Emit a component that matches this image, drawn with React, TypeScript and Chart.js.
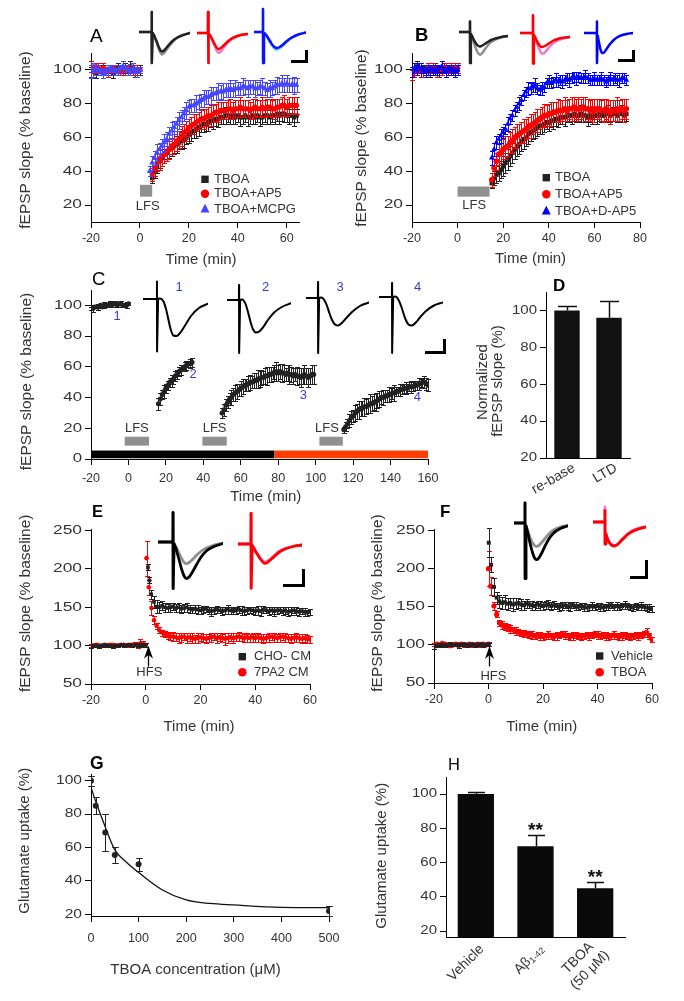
import React, { useEffect, useRef } from 'react';
import { Chart, registerables } from 'chart.js';

Chart.register(...registerables);

const FF = '"Liberation Sans", Arial, Helvetica, sans-serif';
const TXT = '#333333';
const INK = '#222222';
const RED = '#ff0000';
const BLUE_A = '#4646ff';
const BLUE_B = '#0000ff';
const GRAY = '#8f8f8f';
const PINK = '#f07ad2';
const LIGHTBLUE = '#62c6f2';
const NUMBLUE = '#3b3bd0';
const ORANGE = '#ff3d00';
const LFS_GRAY = '#909090';

// ---------------- Panel A ----------------
const aNames = ['TBOA', 'TBOA+AP5', 'TBOA+MCPG'];
const aXTicks = [-20, 0, 20, 40, 60];
const aYTicks = [20, 40, 60, 80, 100];
const aLfs = [0, 5];
const aBaseStart = -20;
const aTboaBase = [99, 100, 98, 99, 100, 101, 99, 100, 99, 98, 100, 101, 100, 99, 101, 100, 102, 101, 99, 100, 100];
const aTboaBaseErr = [3, 2, 3, 2, 3, 2, 2, 3, 2, 3, 2, 3, 2, 2, 3, 2, 3, 2, 3, 2, 3];
const aAp5Base = [102, 101, 102, 101, 100, 101, 100, 99, 100, 101, 100, 99, 100, 99, 100, 101, 100, 100, 99, 100, 100];
const aAp5BaseErr = [3, 3, 2, 3, 2, 3, 2, 3, 2, 2, 3, 2, 3, 2, 3, 2, 2, 3, 2, 3, 2];
const aMcpgBase = [99, 100, 101, 100, 99, 98, 99, 100, 101, 100, 99, 100, 101, 102, 101, 100, 99, 101, 100, 99, 100];
const aMcpgBaseErr = [4, 4, 2, 3, 2, 3, 2, 3, 2, 3, 2, 3, 2, 3, 2, 3, 2, 3, 2, 3, 2];
const aTboaStart = 5;
const aTboaPost = [
  36, 40, 43, 46, 48, 50, 51, 53, 54, 55,
  56, 57, 58, 59, 60, 62, 63, 64, 65, 66,
  67, 68, 68, 69, 70, 70, 71, 71, 72, 72,
  73, 73, 72, 73, 72, 73, 72, 72, 73, 72,
  72, 73, 72, 73, 72, 72, 73, 73, 72, 73,
  73, 74, 73, 74, 74, 73, 73, 73, 72, 73];
const aTboaErr = [
  3, 4, 4, 4, 5, 5, 4, 5, 5, 4, 5, 4, 5, 5, 4, 5, 5, 4, 5, 5,
  4, 5, 4, 5, 4, 5, 4, 5, 4, 4, 5, 4, 4, 5, 4, 4, 5, 4, 4, 5,
  4, 5, 4, 4, 5, 4, 4, 5, 4, 4, 5, 4, 5, 4, 5, 4, 5, 4, 5, 4];
const aAp5Start = 5;
const aAp5Post = [
  38, 42, 45, 47, 49, 50, 52, 53, 55, 56,
  58, 59, 61, 63, 64, 66, 67, 68, 69, 70,
  71, 71, 72, 73, 73, 74, 75, 75, 76, 76,
  76, 77, 77, 76, 77, 77, 78, 77, 77, 77,
  76, 77, 78, 77, 77, 78, 77, 78, 78, 77,
  77, 78, 78, 79, 79, 78, 79, 79, 79, 79];
const aAp5Err = [
  4, 5, 5, 6, 6, 5, 6, 6, 5, 6, 6, 5, 6, 5, 6, 5, 5, 6, 5, 5,
  5, 6, 5, 5, 6, 5, 5, 6, 5, 5, 5, 5, 6, 5, 5, 5, 6, 5, 5, 5,
  5, 6, 5, 5, 5, 6, 5, 5, 5, 5, 6, 5, 5, 5, 6, 5, 5, 5, 5, 5];
const aMcpgStart = 4;
const aMcpgPost = [
  40, 45, 48, 51, 53, 55, 57, 59, 62, 64,
  66, 68, 70, 72, 74, 76, 78, 79, 79, 80,
  81, 82, 83, 84, 84, 85, 86, 86, 87, 87,
  87, 88, 88, 89, 88, 89, 89, 89, 90, 90,
  89, 90, 90, 89, 89, 90, 90, 89, 88, 89,
  89, 90, 91, 91, 92, 91, 92, 91, 91, 91,
  91];
const aMcpgErr = [
  3, 4, 4, 5, 4, 4, 5, 4, 4, 5, 4, 4, 5, 4, 4, 5, 4, 4, 4, 5,
  4, 4, 5, 4, 4, 5, 4, 4, 5, 4, 5, 4, 4, 5, 4, 5, 4, 4, 5, 4,
  5, 4, 4, 5, 4, 4, 5, 4, 4, 5, 4, 4, 5, 4, 5, 4, 5, 4, 4, 5, 4];

// ---------------- Panel B ----------------
const bNames = ['TBOA', 'TBOA+AP5', 'TBOA+D-AP5'];
const bXTicks = [-20, 0, 20, 40, 60, 80];
const bYTicks = [20, 40, 60, 80, 100];
const bLfs = [0, 14];
const bBaseStart = -20;
const bTboaBase = [97, 100, 102, 100, 99, 101, 100, 100, 99, 100, 101, 100, 99, 100, 101, 101, 100, 99, 100, 101, 100];
const bTboaBaseErr = [3, 2, 3, 2, 3, 2, 3, 2, 3, 2, 3, 2, 3, 2, 3, 2, 3, 2, 3, 2, 3];
const bAp5Base = [97, 99, 100, 101, 100, 99, 100, 101, 100, 101, 100, 99, 101, 100, 100, 101, 100, 101, 100, 101, 101];
const bAp5BaseErr = [3, 3, 2, 3, 2, 3, 2, 3, 2, 3, 2, 3, 2, 3, 2, 3, 2, 3, 2, 3, 3];
const bDap5Base = [99, 101, 100, 102, 101, 100, 99, 100, 101, 100, 99, 100, 101, 102, 100, 99, 101, 100, 100, 99, 100];
const bDap5BaseErr = [3, 3, 3, 2, 3, 2, 3, 3, 2, 3, 2, 3, 2, 3, 2, 3, 2, 3, 2, 3, 3];
const bPostStart = 15;
const bTboaPost = [
  33, 36, 38, 39, 41, 43, 45, 47, 49, 51,
  53, 55, 56, 58, 59, 60, 62, 63, 64, 65,
  66, 67, 67, 68, 69, 69, 70, 70, 71, 71,
  72, 72, 72, 73, 73, 73, 74, 73, 73, 74,
  73, 73, 72, 73, 72, 73, 73, 74, 73, 73,
  74, 74, 73, 74, 74, 73, 74, 74, 73, 74];
const bTboaErr = [
  3, 4, 5, 5, 5, 6, 6, 6, 6, 6, 6, 6, 6, 6, 6, 5, 6, 5, 5, 5,
  5, 5, 5, 5, 4, 5, 4, 5, 4, 5, 4, 4, 5, 4, 4, 5, 4, 4, 4, 5,
  4, 4, 5, 4, 4, 4, 5, 4, 4, 4, 4, 5, 4, 4, 4, 4, 4, 5, 4, 4];
const bAp5Post = [
  35, 42, 46, 50, 51, 53, 54, 55, 57, 58,
  60, 61, 62, 63, 64, 65, 66, 67, 68, 69,
  70, 71, 72, 73, 73, 74, 74, 75, 75, 76,
  76, 76, 77, 76, 77, 77, 78, 77, 77, 77,
  78, 77, 77, 76, 77, 76, 77, 77, 76, 76,
  77, 76, 75, 76, 76, 77, 76, 77, 76, 77];
const bAp5Err = [
  4, 5, 5, 6, 6, 6, 7, 6, 6, 7, 6, 7, 6, 6, 7, 6, 6, 7, 6, 6,
  7, 6, 6, 7, 6, 6, 7, 6, 6, 7, 6, 6, 7, 6, 6, 7, 6, 6, 7, 6,
  6, 7, 6, 6, 6, 7, 6, 6, 6, 7, 6, 6, 7, 6, 6, 7, 6, 6, 7, 6];
const bDap5Post = [
  48, 53, 57, 59, 61, 63, 65, 68, 71, 73,
  76, 78, 80, 82, 85, 87, 89, 89, 90, 91,
  89, 88, 89, 90, 92, 93, 92, 93, 94, 93,
  94, 93, 94, 95, 94, 95, 96, 95, 96, 95,
  95, 96, 95, 94, 94, 95, 94, 94, 95, 94,
  93, 94, 95, 94, 95, 94, 94, 95, 95, 94];
const bDap5Err = [
  4, 4, 4, 3, 4, 3, 3, 4, 3, 3, 3, 3, 4, 3, 3, 3, 4, 3, 3, 4,
  3, 3, 4, 3, 3, 4, 3, 3, 4, 3, 3, 4, 3, 3, 4, 3, 3, 4, 3, 3,
  3, 4, 3, 3, 3, 4, 3, 3, 4, 3, 3, 3, 4, 3, 3, 3, 4, 3, 3, 3];

// ---------------- Panel C ----------------
const cXTicks = [-20, 0, 20, 40, 60, 80, 100, 120, 140, 160];
const cYTicks = [0, 20, 40, 60, 80, 100];
const cLfs = [[-2, 11], [39.5, 52.5], [102, 114.5]];
const cLfsLabelX = [4.5, 46, 106];
const cDrugA = [-20, 78];
const cDrugB = [78, 160];
const cPointLabels = ['1', '2', '3', '4'];
const cPointLabelX = [-6, 34.6, 93.4, 154.3];
const cPointLabelY = [92.6, 54.8, 41.1, 39.8];
const cBaseStart = -20;
const cBase = [98, 98, 99, 99, 99, 100, 99, 100, 100, 100, 101, 100, 101, 101, 100, 101, 101, 100, 100, 100, 101];
const cBaseErr = [1, 2, 1, 1, 2, 1, 1, 2, 1, 1, 2, 1, 1, 2, 1, 1, 2, 1, 1, 2, 1];
const cSeg2Start = 16;
const cSeg2 = [36, 39, 42, 44, 46, 48, 50, 51, 52, 54, 55, 57, 58, 59, 60, 61, 62, 62, 63];
const cSeg2Err = [4, 4, 3, 4, 3, 3, 3, 4, 3, 3, 3, 3, 3, 2, 3, 3, 2, 3, 3];
const cSeg3Start = 50;
const cSeg3 = [
  30, 32, 35, 37, 39, 40, 42, 43, 44, 45,
  46, 47, 48, 48, 49, 50, 50, 51, 51, 52,
  52, 53, 53, 54, 54, 55, 55, 56, 56, 57,
  56, 57, 56, 56, 55, 56, 55, 55, 54, 55,
  54, 54, 53, 54, 55, 54, 53, 54, 55, 55];
const cSeg3Err = [
  3, 4, 4, 4, 4, 5, 4, 5, 5, 4, 5, 5, 4, 4, 5, 5, 4, 5, 5, 6,
  5, 5, 4, 5, 6, 5, 5, 4, 5, 6, 5, 5, 6, 5, 4, 5, 6, 5, 5, 4,
  6, 5, 6, 5, 6, 5, 6, 5, 6, 6];
const cSeg4Start = 115;
const cSeg4 = [
  19, 21, 23, 25, 27, 28, 30, 31, 32, 33,
  33, 34, 34, 35, 36, 36, 37, 37, 38, 39,
  40, 40, 41, 41, 42, 42, 43, 43, 44, 44,
  45, 45, 46, 46, 46, 47, 47, 47, 48, 48,
  49, 49, 50, 50, 49, 48];
const cSeg4Err = [
  2, 3, 3, 4, 4, 4, 5, 5, 6, 5, 5, 6, 5, 5, 6, 5, 5, 6, 5, 5,
  4, 5, 4, 4, 5, 4, 4, 5, 3, 3, 4, 3, 3, 4, 3, 3, 4, 3, 3, 3,
  4, 3, 3, 4, 4, 4];

// ---------------- Panel D ----------------
const dLabels = [['re-base'], ['LTD']];
const dYTicks = [20, 40, 60, 80, 100];
const dValues = [100, 96];
const dErr = [2.5, 9];

// ---------------- Panel E ----------------
const eNames = ['CHO- CM', '7PA2 CM'];
const efXTicks = [-20, 0, 20, 40, 60];
const efYTicks = [50, 100, 150, 200, 250];
const eBaseStart = -20;
const eChoBase = [99, 100, 100, 99, 100, 101, 100, 100, 99, 100, 100, 101, 100, 100, 101, 100, 101, 100, 101, 101, 101];
const eChoBaseErr = [2, 2, 1, 2, 2, 1, 2, 2, 2, 1, 2, 2, 2, 1, 2, 2, 2, 2, 2, 3, 3];
const e7paBase = [100, 100, 101, 100, 100, 101, 100, 101, 101, 100, 100, 101, 101, 100, 101, 101, 102, 100, 103, 102, 101];
const e7paBaseErr = [2, 2, 2, 2, 2, 2, 2, 2, 2, 2, 2, 2, 2, 2, 2, 2, 3, 3, 5, 4, 3];
const eChoEarlyT = [0.8, 1.3, 2, 3];
const eChoEarly = [202, 185, 167, 157];
const eChoEarlyErr = [4, 4, 6, 8];
const eChoStart = 4;
const eChoPost = [
  151, 150, 152, 150, 149, 150, 151, 149, 150, 148,
  149, 150, 148, 147, 148, 147, 146, 147, 148, 146,
  145, 146, 147, 146, 145, 146, 147, 146, 145, 146,
  147, 146, 145, 146, 147, 146, 145, 146, 145, 147,
  146, 145, 146, 145, 146, 146, 145, 146, 144, 145,
  146, 145, 144, 145, 144, 143, 144];
const eChoErr = [
  8, 7, 6, 6, 5, 6, 5, 5, 6, 5, 5, 6, 5, 4, 5, 6, 5, 5, 4, 5,
  6, 5, 5, 4, 5, 5, 6, 5, 4, 5, 5, 6, 5, 5, 4, 5, 5, 6, 7, 5,
  4, 5, 5, 6, 5, 4, 5, 5, 6, 5, 4, 5, 5, 4, 5, 4, 4];
const e7paEarlyT = [0.3, 1.1, 2.1, 3, 4, 5, 6, 7];
const e7paEarly = [214, 176, 149, 133, 126, 120, 117, 115];
const e7paEarlyErr = [23, 10, 9, 5, 4, 4, 4, 4];
const e7paStart = 8;
const e7paPost = [
  113, 112, 112, 111, 110, 111, 112, 110, 111, 110,
  109, 110, 111, 110, 109, 110, 111, 112, 110, 111,
  110, 109, 110, 111, 110, 111, 112, 111, 110, 111,
  110, 111, 110, 111, 110, 109, 110, 111, 112, 111,
  110, 111, 112, 111, 110, 109, 110, 111, 110, 109,
  110, 109, 108];
const e7paErr = [
  5, 5, 6, 5, 7, 6, 5, 6, 5, 6, 5, 6, 5, 5, 6, 5, 6, 5, 6, 5,
  5, 8, 6, 5, 6, 5, 6, 5, 5, 6, 5, 6, 5, 6, 5, 6, 5, 6, 5, 6,
  5, 6, 5, 6, 5, 6, 5, 6, 5, 6, 5, 5, 5];

// ---------------- Panel F ----------------
const fNames = ['Vehicle', 'TBOA'];
const fBaseStart = -20;
const fVehBase = [98, 99, 100, 100, 99, 100, 101, 100, 100, 99, 100, 101, 100, 100, 101, 100, 100, 101, 100, 100, 101];
const fVehBaseErr = [3, 2, 2, 3, 2, 2, 3, 2, 2, 3, 2, 2, 3, 2, 2, 3, 2, 2, 3, 2, 2];
const fTboaBase = [100, 101, 100, 102, 101, 100, 99, 100, 101, 100, 101, 100, 100, 101, 100, 100, 101, 100, 101, 100, 101];
const fTboaBaseErr = [2, 2, 3, 2, 2, 3, 2, 2, 3, 2, 2, 3, 2, 2, 3, 2, 2, 3, 2, 2, 3];
const fVehEarlyT = [0.1, 0.9, 2, 3];
const fVehEarly = [234, 205, 176, 162];
const fVehEarlyErr = [19, 10, 12, 8];
const fVehStart = 4;
const fVehPost = [
  157, 155, 156, 154, 155, 153, 154, 155, 153, 152,
  154, 153, 152, 151, 153, 152, 151, 152, 153, 151,
  152, 151, 150, 151, 152, 151, 150, 152, 151, 150,
  151, 150, 149, 150, 151, 150, 151, 150, 149, 150,
  151, 152, 150, 151, 150, 151, 152, 151, 150, 149,
  151, 150, 151, 150, 149, 148, 147];
const fVehErr = [
  9, 8, 9, 8, 7, 8, 7, 6, 7, 6, 6, 5, 6, 5, 5, 6, 5, 5, 6, 5,
  5, 4, 5, 5, 4, 5, 5, 4, 5, 4, 4, 5, 4, 4, 5, 4, 4, 5, 4, 4,
  5, 4, 4, 5, 4, 4, 5, 4, 4, 5, 4, 4, 5, 4, 4, 5, 4];
const fTboaEarlyT = [0, 0.8, 2, 3, 4];
const fTboaEarly = [200, 177, 151, 140, 129];
const fTboaEarlyErr = [23, 12, 5, 4, 4];
const fTboaStart = 5;
const fTboaPost = [
  126, 124, 123, 121, 120, 118, 117, 116, 115, 114,
  113, 113, 112, 113, 112, 111, 112, 113, 112, 111,
  112, 113, 114, 113, 112, 111, 112, 113, 112, 111,
  112, 113, 112, 113, 114, 113, 112, 113, 112, 111,
  112, 113, 112, 111, 112, 113, 112, 111, 112, 113,
  112, 113, 114, 116, 112, 107];
const fTboaErr = [
  5, 5, 5, 5, 4, 5, 4, 4, 5, 4, 4, 5, 4, 4, 5, 4, 4, 5, 4, 4,
  5, 4, 4, 5, 4, 4, 5, 4, 4, 5, 4, 4, 5, 4, 4, 5, 4, 4, 5, 4,
  4, 5, 4, 4, 5, 4, 4, 5, 4, 4, 5, 4, 4, 6, 4, 3];

// ---------------- Panel G ----------------
const gXTicks = [0, 100, 200, 300, 400, 500];
const gYTicks = [20, 40, 60, 80, 100];
const gConc = [0, 10, 30, 50, 100, 500];
const gUptake = [100, 85, 69, 55.5, 50, 22];
const gErr = [3, 5, 11, 5, 4, 3];
const gFitX = [0, 10, 25, 50, 75, 100, 150, 200, 250, 300, 400, 500];
const gFitY = [96, 87.5, 76, 58.6, 51, 45, 34.6, 28.6, 26.5, 25.6, 24.2, 24];

// ---------------- Panel H ----------------
const hLabels = [['Vehicle'], ['A\u03b2_1-42'], ['TBOA', '(50 \u03bcM)']];
const hYTicks = [20, 40, 60, 80, 100];
const hValues = [100, 69.5, 45];
const hErr = [1, 6.5, 3.5];
const hSig = ['', '**', '**'];

// ---------------- inset traces ----------------
const traceArtT = 15;
const tracePostT = [16, 17.5, 19, 21, 23, 25, 27, 29.5, 32.5, 36, 40, 45, 52, 60];
const trA1Art = [20, -31];
const trA1Black = [-1, -3, -6, -10, -14.5, -18, -19.5, -18.5, -15.5, -12, -8.5, -5.5, -3, -1];
const trA1Gray = [-1, -3, -6.5, -11, -16, -20.5, -22.5, -21, -17.5, -13.5, -9.5, -6, -3, -1];
const trA2Art = [21, -30];
const trA2Red = [-1, -2.5, -5, -8.5, -12, -15, -16, -15, -12.5, -9.5, -6.5, -4, -2, -1];
const trA2Pink = [-1, -2.5, -5.5, -10, -14, -18, -19.7, -18.5, -15, -11, -7.5, -4.5, -2, -1];
const trA3Art = [23, -31];
const trA3Blue = [-1, -2, -4, -7, -10, -13, -15, -16, -15, -12.5, -9, -5.5, -2.5, -0.5];
const trA3Light = [-1, -2, -4.5, -8, -11, -14, -16.5, -17.5, -16, -13.5, -9.5, -6, -2.5, -0.5];
const trB1Art = [10.6, -31];
const trB1Black = [-2, -4, -7, -10, -12.5, -14, -14.4, -13.5, -12, -10, -8, -6.5, -5, -4];
const trB1Gray = [-2, -5, -9, -14, -18.5, -21.5, -22.7, -21, -17.5, -13.5, -10, -7.5, -5.5, -4];
const trB2Art = [17.7, -30.6];
const trB2Red = [-2, -4, -7, -10, -12.5, -14, -13.8, -13, -11.5, -9.5, -7.5, -6, -4.8, -4];
const trB2Pink = [-2, -4.5, -8.5, -13, -17, -20, -20.6, -19.5, -16.5, -13, -10, -7.5, -5.5, -4];
const trB3Art = [11.6, -30];
const trB3Blue = [-3, -9, -15, -19.5, -20, -18.5, -16, -13, -10, -7, -4.5, -2.5, -1, 0];
const trC1Art = [17.6, -52.4];
const trC1 = [0, 0.5, 0, -3, -10, -20, -30, -36.5, -37, -33, -26, -17, -9, -4.7];
const trC2Art = [15, -53];
const trC2 = [0, 0.5, -0.5, -5, -13, -22, -29, -32.5, -31.5, -27, -20, -13, -7, -3.3];
const trC3Art = [16, -55];
const trC3 = [0, 0.5, 0, -3, -8, -15, -21, -26, -27.5, -25, -20, -14, -8, -4.4];
const trC4Art = [14, -56];
const trC4 = [0, 0.5, 0, -3.5, -9, -16, -22.5, -27.5, -28.5, -25.5, -20, -14, -8.5, -5.4];
const trE1Art = [29.4, -46.6];
const trE1Black = [-2, -6, -12, -20, -28, -34, -36.5, -35, -30, -23, -15.5, -9, -4.5, -1.6];
const trE1Gray = [-2, -4.5, -8, -12.5, -17, -20.5, -21.6, -20.5, -17.5, -13.5, -9.5, -6, -3, -1.2];
const trE2Art = [30.7, -44.3];
const trE2Red = [-1.5, -4, -7.5, -11, -14.5, -17.5, -19.3, -18.5, -15.5, -12, -8, -5, -2.5, -1];
const trE2Pink = [-1.5, -4, -7, -10.5, -14, -16.5, -17.7, -17, -14.5, -11, -7.5, -4.5, -2.5, -1];
const trF1Art = [20, -55.7];
const trF1Black = [-3, -8, -15, -23, -30, -35, -36.7, -35, -30, -23, -16, -10, -5.5, -2.7];
const trF1Gray = [-3, -6.5, -11, -16, -20, -22.5, -23.4, -22.5, -19.5, -15.5, -11, -7, -4, -2.5];
const trF2RedArt = [11.7, -22];
const trF2PinkArt = [15, -22];
const trF2Red = [-12, -16, -19.5, -22, -23.5, -24, -23.5, -22, -19, -16, -12.5, -9.5, -7, -5];
const trF2Pink = [-12, -15.5, -19, -21.5, -23, -23.5, -23, -21.5, -18.5, -15, -11.5, -8.5, -6, -4.5];

// ---------------- axis titles ----------------
const titleSlope = 'fEPSP slope (% baseline)';
const titleTime = 'Time (min)';
const titleNorm = ['Normalized', 'fEPSP slope (%)'];
const titleUptake = 'Glutamate uptake (%)';
const titleConc = 'TBOA concentration (\u03bcM)';

// ---------------- helpers ----------------
type P = { x: number; y: number };
const seq = (t0: number, v: number[]): P[] => v.map((y, i) => ({ x: t0 + i, y }));
const at = (t: number[], v: number[]): P[] => v.map((y, i) => ({ x: t[i], y }));

function ptDs(pts: P[], err: number[], color: string, style: string, r: number, cap = 2.5) {
  return {
    data: pts, err, errColor: color, errCap: cap,
    borderColor: color, backgroundColor: color,
    pointStyle: style, pointRadius: r, pointBorderWidth: 0, showLine: false,
  };
}

function drawText(ctx: any, s: string, x: number, y: number, o: any = {}) {
  ctx.save();
  ctx.translate(x, y);
  if (o.rot) ctx.rotate(o.rot);
  ctx.scale(o.sx ?? 1, 1);
  ctx.font = o.font ?? `13px ${FF}`;
  ctx.fillStyle = o.color ?? TXT;
  ctx.textAlign = o.align ?? 'center';
  ctx.textBaseline = o.baseline ?? 'middle';
  ctx.fillText(s, 0, 0);
  ctx.restore();
}

function shape(ctx: any, style: string, x: number, y: number, r: number) {
  ctx.beginPath();
  if (style === 'rect') ctx.rect(x - r, y - r, 2 * r, 2 * r);
  else if (style === 'circle') ctx.arc(x, y, r, 0, Math.PI * 2);
  else { ctx.moveTo(x, y - r * 1.15); ctx.lineTo(x + r, y + r * 0.75); ctx.lineTo(x - r, y + r * 0.75); ctx.closePath(); }
  ctx.fill();
}

function measureLine(ctx: any, line: string, fs: number) {
  const [main, sub] = line.split('_');
  ctx.font = `${fs}px ${FF}`;
  let w = ctx.measureText(main).width;
  if (sub) { ctx.font = `${Math.round(fs * 0.65)}px ${FF}`; w += ctx.measureText(sub).width; }
  return w;
}

function drawLine(ctx: any, line: string, xr: number, y: number, fs: number) {
  const [main, sub] = line.split('_');
  const w = measureLine(ctx, line, fs);
  const x0 = xr - w;
  ctx.textAlign = 'left';
  ctx.textBaseline = 'middle';
  ctx.font = `${fs}px ${FF}`;
  ctx.fillText(main, x0, y);
  if (sub) {
    const wm = ctx.measureText(main).width;
    ctx.font = `${Math.round(fs * 0.65)}px ${FF}`;
    ctx.fillText(sub, x0 + wm, y + fs * 0.22);
  }
}

function makeDeco(d: any) {
  return {
    id: 'deco',
    beforeDatasetsDraw(chart: any) {
      const { ctx } = chart;
      const xs = chart.scales.x, ys = chart.scales.y;
      (d.boxes || []).forEach((b: any) => {
        const x0 = xs.getPixelForValue(b.x0), x1 = xs.getPixelForValue(b.x1);
        const y0 = ys.getPixelForValue(b.y0), y1 = ys.getPixelForValue(b.y1);
        ctx.fillStyle = b.color;
        ctx.fillRect(Math.min(x0, x1), Math.min(y0, y1), Math.abs(x1 - x0), Math.abs(y1 - y0));
      });
    },
    beforeDatasetDraw(chart: any, args: any) {
      const ds: any = chart.data.datasets[args.index];
      if (!ds.err) return;
      const meta = chart.getDatasetMeta(args.index);
      const ys = chart.scales[meta.yAxisID];
      const ctx = chart.ctx;
      ctx.save();
      ctx.strokeStyle = ds.errColor;
      ctx.lineWidth = ds.errWidth ?? 1;
      meta.data.forEach((el: any, j: number) => {
        const raw = ds.data[j];
        const v = typeof raw === 'number' ? raw : raw.y;
        const e = ds.err[j];
        if (!e) return;
        const x = Math.round(el.x) + 0.5;
        const yt = Math.round(ys.getPixelForValue(v + e)) + 0.5;
        const yb = ds.errUp ? ys.getPixelForValue(v) : Math.round(ys.getPixelForValue(v - e)) + 0.5;
        const c = ds.errCap ?? 2.5;
        ctx.beginPath();
        ctx.moveTo(x, yt); ctx.lineTo(x, yb);
        ctx.moveTo(x - c, yt); ctx.lineTo(x + c, yt);
        if (!ds.errUp) { ctx.moveTo(x - c, yb); ctx.lineTo(x + c, yb); }
        ctx.stroke();
      });
      ctx.restore();
    },
    afterDraw(chart: any) {
      const { ctx, chartArea: ca } = chart;
      const xs = chart.scales.x, ys = chart.scales.y;
      const ox = d.ox, oy = d.oy;
      if (d.yt) {
        ys.ticks.forEach((t: any, i: number) => {
          drawText(ctx, String(t.value), ca.left - d.yt.off, ys.getPixelForTick(i), { font: d.yt.font, sx: d.yt.sx, align: 'right', color: TXT });
        });
      }
      if (d.xt) {
        const X = d.xt;
        xs.ticks.forEach((t: any, i: number) => {
          const px = xs.getPixelForTick(i);
          if (!X.rot) {
            drawText(ctx, String(t.value), px, ca.bottom + X.off, { font: X.font, sx: X.sx, align: 'center', color: TXT });
          } else {
            const lines: string[] = X.labels[i];
            ctx.save();
            ctx.translate(px + X.dx, ca.bottom + X.dy);
            ctx.rotate(X.rot);
            ctx.fillStyle = TXT;
            const ws = lines.map((l) => measureLine(ctx, l, X.fs));
            const mw = Math.max(...ws);
            lines.forEach((l, k) => drawLine(ctx, l, -(mw - ws[k]) / 2, (k - (lines.length - 1) / 2) * X.lh, X.fs));
            ctx.restore();
          }
        });
      }
      (d.titles || []).forEach((t: any) => {
        drawText(ctx, t.s, t.x - ox, t.y - oy, { font: `${t.size}px ${FF}`, color: TXT, rot: t.rot ? -Math.PI / 2 : 0, sx: t.sx ?? 1 });
      });
      (d.texts || []).forEach((t: any) => {
        drawText(ctx, t.s, xs.getPixelForValue(t.x), ys.getPixelForValue(t.y), { font: t.font, color: t.color ?? TXT, sx: t.sx ?? 1 });
      });
      (d.ptexts || []).forEach((t: any) => {
        drawText(ctx, t.s, t.x - ox, t.y - oy, { font: t.font, color: t.color ?? TXT, sx: t.sx ?? 1 });
      });
      (d.arrows || []).forEach((a: any) => {
        const x = Math.round(xs.getPixelForValue(a.x)) + 0.5;
        const y0 = ys.getPixelForValue(a.y0), y1 = ys.getPixelForValue(a.y1);
        ctx.save();
        ctx.strokeStyle = '#000'; ctx.lineWidth = 1.3;
        ctx.beginPath(); ctx.moveTo(x, y0); ctx.lineTo(x, y1 + 8); ctx.stroke();
        ctx.fillStyle = '#000';
        ctx.beginPath(); ctx.moveTo(x, y1); ctx.lineTo(x - 4.5, y1 + 13); ctx.lineTo(x, y1 + 9); ctx.lineTo(x + 4.5, y1 + 13); ctx.closePath(); ctx.fill();
        ctx.restore();
      });
      if (d.legend) {
        const L = d.legend;
        L.items.forEach((it: any, i: number) => {
          const yy = L.ys[i] - oy;
          ctx.fillStyle = it.color;
          shape(ctx, it.style, L.mx - ox, yy, it.r);
          drawText(ctx, L.names[i], L.tx - ox, yy, { font: L.font, align: 'left', sx: L.sx ?? 1, color: TXT });
        });
      }
      if (d.sig) {
        const meta = chart.getDatasetMeta(0);
        const ds: any = chart.data.datasets[0];
        meta.data.forEach((el: any, i: number) => {
          const s = d.sig.s[i];
          if (!s) return;
          const yTop = ys.getPixelForValue(ds.data[i] + ds.err[i]);
          drawText(ctx, s, el.x, yTop + d.sig.dy, { font: d.sig.font, color: '#111', baseline: 'alphabetic' });
        });
      }
    },
  };
}

function buildConfig(s: any) {
  const { rect, pad } = s;
  const tl = s.tickLen ?? 6;
  const border = { display: true, color: '#000', width: 1 };
  const grid = { display: true, drawOnChartArea: false, drawTicks: true, tickLength: tl, color: '#000', lineWidth: 1 };
  const ox = rect.l - pad.l, oy = rect.t - pad.t;
  const x = s.type === 'bar'
    ? { type: 'category', offset: true, grid: { display: false }, border, ticks: { display: false }, afterFit: (sc: any) => { sc.height = pad.b; } }
    : {
        type: 'linear', min: s.xr[0], max: s.xr[1], ticks: { display: false }, grid, border,
        afterBuildTicks: (sc: any) => { sc.ticks = s.xTicks.map((v: number) => ({ value: v })); },
        afterFit: (sc: any) => { sc.height = pad.b; },
      };
  const y = {
    type: 'linear', min: s.yr[0], max: s.yr[1], ticks: { display: false }, grid, border,
    afterBuildTicks: (sc: any) => { sc.ticks = s.yTicks.map((v: number) => ({ value: v })); },
    afterFit: (sc: any) => { sc.width = pad.l; },
  };
  return {
    type: s.type,
    data: s.type === 'bar' ? { labels: s.labels, datasets: s.datasets } : { datasets: s.datasets },
    options: {
      animation: false, responsive: true, maintainAspectRatio: false, events: [],
      layout: { padding: { left: 0, top: pad.t, right: pad.r, bottom: 0 }, autoPadding: false },
      plugins: { legend: { display: false }, tooltip: { enabled: false } },
      scales: { x, y },
    },
    plugins: [makeDeco({ ...s.deco, ox, oy })],
  };
}

function MainChart({ spec }: any) {
  const ref = useRef<HTMLCanvasElement>(null);
  const { rect, pad } = spec;
  useEffect(() => {
    const ch = new Chart(ref.current as any, buildConfig(spec) as any);
    return () => ch.destroy();
  }, []);
  return (
    <div style={{ position: 'absolute', left: rect.l - pad.l, top: rect.t - pad.t, width: rect.r - rect.l + pad.l + pad.r, height: rect.b - rect.t + pad.t + pad.b }}>
      <canvas ref={ref} />
    </div>
  );
}

function TraceBox({ l, r, base, xmin, lines, lw = 2.5 }: any) {
  const ref = useRef<HTMLCanvasElement>(null);
  useEffect(() => {
    const datasets: any[] = [];
    lines.forEach((ln: any) => {
      datasets.push({
        data: at([-20, traceArtT - 0.1, traceArtT, traceArtT + 0.1, tracePostT[0]], [0, 0, ln.art[0], ln.art[1], ln.post[0]]),
        showLine: true, borderColor: ln.color, borderWidth: lw, pointRadius: 0, tension: 0,
        borderJoinStyle: 'round', borderCapStyle: 'round',
      });
      datasets.push({
        data: at(tracePostT, ln.post), showLine: true, borderColor: ln.color, borderWidth: lw,
        pointRadius: 0, cubicInterpolationMode: 'monotone', borderJoinStyle: 'round', borderCapStyle: 'round',
      });
    });
    const ch = new Chart(ref.current as any, {
      type: 'scatter',
      data: { datasets },
      options: {
        animation: false, responsive: true, maintainAspectRatio: false, events: [],
        layout: { padding: 0, autoPadding: false },
        plugins: { legend: { display: false }, tooltip: { enabled: false } },
        scales: {
          x: { type: 'linear', display: false, min: xmin, max: 60 },
          y: { type: 'linear', display: false, min: -60, max: 35 },
        },
      },
    } as any);
    return () => ch.destroy();
  }, []);
  return (
    <div style={{ position: 'absolute', left: l, top: base - 35, width: r - l, height: 95 }}>
      <canvas ref={ref} />
    </div>
  );
}

function ScaleBar({ l, t, w, h }: any) {
  return <div style={{ position: 'absolute', left: l, top: t, width: w, height: h, boxSizing: 'border-box', borderRight: '3px solid #000', borderBottom: '3px solid #000' }} />;
}

function Letter({ x, y, s, size, bold }: any) {
  return (
    <div style={{ position: 'absolute', left: x, top: Math.round(y - 0.13 * size), fontFamily: FF, fontSize: size, fontWeight: bold ? 700 : 400, lineHeight: `${size}px`, color: '#000' }}>{s}</div>
  );
}

// ---------------- chart specs ----------------
const F12 = `12px ${FF}`;
const F13 = `13px ${FF}`;

const specA = {
  type: 'scatter',
  rect: { l: 91, t: 53, r: 299, b: 222 }, pad: { l: 76, t: 6, r: 8, b: 46 },
  xr: [-20, 65], xTicks: aXTicks, yr: [10, 110], yTicks: aYTicks,
  datasets: [
    ptDs([...seq(aBaseStart, aMcpgBase), ...seq(aMcpgStart, aMcpgPost)], [...aMcpgBaseErr, ...aMcpgErr], BLUE_A, 'triangle', 3.5),
    ptDs([...seq(aBaseStart, aAp5Base), ...seq(aAp5Start, aAp5Post)], [...aAp5BaseErr, ...aAp5Err], RED, 'circle', 2.6),
    ptDs([...seq(aBaseStart, aTboaBase), ...seq(aTboaStart, aTboaPost)], [...aTboaBaseErr, ...aTboaErr], INK, 'rect', 3.2),
  ],
  deco: {
    yt: { font: F12, sx: 1.45, off: 9 },
    xt: { font: F12, sx: 1.05, off: 17 },
    titles: [{ x: 26, y: 140, s: titleSlope, size: 15.5, rot: true }, { x: 201, y: 260, s: titleTime, size: 15 }],
    boxes: [{ x0: aLfs[0], x1: aLfs[1], y0: 25, y1: 32, color: LFS_GRAY }],
    texts: [{ x: 3.2, y: 19, s: 'LFS', font: F13 }],
    legend: {
      mx: 205, tx: 214, ys: [179.3, 193.8, 209], font: F13, names: aNames,
      items: [{ style: 'rect', color: INK, r: 3.7 }, { style: 'circle', color: RED, r: 4.2 }, { style: 'triangle', color: BLUE_A, r: 4.5 }],
    },
  },
};

const specB = {
  type: 'scatter',
  rect: { l: 412, t: 53, r: 640, b: 222 }, pad: { l: 62, t: 6, r: 8, b: 46 },
  xr: [-20, 80], xTicks: bXTicks, yr: [10, 110], yTicks: bYTicks,
  datasets: [
    ptDs([...seq(bBaseStart, bDap5Base), ...seq(bPostStart, bDap5Post)], [...bDap5BaseErr, ...bDap5Err], BLUE_B, 'triangle', 3.3),
    ptDs([...seq(bBaseStart, bAp5Base), ...seq(bPostStart, bAp5Post)], [...bAp5BaseErr, ...bAp5Err], RED, 'circle', 2.8),
    ptDs([...seq(bBaseStart, bTboaBase), ...seq(bPostStart, bTboaPost)], [...bTboaBaseErr, ...bTboaErr], INK, 'rect', 3.2),
  ],
  deco: {
    yt: { font: F12, sx: 1.45, off: 9 },
    xt: { font: F12, sx: 1.05, off: 17 },
    titles: [{ x: 362, y: 138, s: titleSlope, size: 15.5, rot: true }, { x: 530.5, y: 259, s: titleTime, size: 15 }],
    boxes: [{ x0: bLfs[0], x1: bLfs[1], y0: 25, y1: 31, color: LFS_GRAY }],
    texts: [{ x: 7.3, y: 20, s: 'LFS', font: F13 }],
    legend: {
      mx: 546.3, tx: 555, ys: [177.7, 194.3, 211], font: F13, names: bNames,
      items: [{ style: 'rect', color: INK, r: 3.7 }, { style: 'circle', color: RED, r: 4.2 }, { style: 'triangle', color: BLUE_B, r: 4.5 }],
    },
  },
};

const specC = {
  type: 'scatter',
  rect: { l: 91, t: 290, r: 428, b: 459 }, pad: { l: 76, t: 22, r: 10, b: 47 },
  xr: [-20, 160], xTicks: cXTicks, yr: [0, 110], yTicks: cYTicks,
  datasets: [
    ptDs([...seq(cBaseStart, cBase), ...seq(cSeg2Start, cSeg2), ...seq(cSeg3Start, cSeg3), ...seq(cSeg4Start, cSeg4)],
      [...cBaseErr, ...cSeg2Err, ...cSeg3Err, ...cSeg4Err], INK, 'circle', 2.5),
  ],
  deco: {
    yt: { font: F12, sx: 1.4, off: 9 },
    xt: { font: F12, sx: 1.05, off: 20 },
    titles: [{ x: 27, y: 381.5, s: titleSlope, size: 15.5, rot: true }, { x: 265.8, y: 496.7, s: titleTime, size: 15 }],
    boxes: [
      ...cLfs.map((b) => ({ x0: b[0], x1: b[1], y0: 8.7, y1: 14.5, color: LFS_GRAY })),
      { x0: cDrugA[0], x1: cDrugA[1], y0: 0.5, y1: 5.5, color: '#000' },
      { x0: cDrugB[0], x1: cDrugB[1], y0: 0.5, y1: 5.5, color: ORANGE },
    ],
    texts: [
      ...cLfsLabelX.map((x) => ({ x, y: 20.2, s: 'LFS', font: F13 })),
      ...cPointLabels.map((s, i) => ({ x: cPointLabelX[i], y: cPointLabelY[i], s, font: F13, color: NUMBLUE })),
    ],
    ptexts: [
      { x: 179, y: 287, s: cPointLabels[0], font: F13, color: NUMBLUE },
      { x: 265.7, y: 287, s: cPointLabels[1], font: F13, color: NUMBLUE },
      { x: 340, y: 287, s: cPointLabels[2], font: F13, color: NUMBLUE },
      { x: 417.7, y: 287, s: cPointLabels[3], font: F13, color: NUMBLUE },
    ],
  },
};

const specD = {
  type: 'bar',
  rect: { l: 546, t: 292, r: 630, b: 458 }, pad: { l: 74, t: 6, r: 6, b: 42 },
  labels: dLabels.map((l) => l.join(' ')), yr: [20, 110], yTicks: dYTicks,
  datasets: [{
    data: dValues, err: dErr, errUp: true, errColor: '#111', errCap: 9.5, errWidth: 1.5,
    backgroundColor: '#111', borderWidth: 0, barPercentage: 0.605, categoryPercentage: 1, clip: 0,
  }],
  deco: {
    yt: { font: F12, sx: 1.25, off: 9 },
    xt: { rot: -Math.PI / 6, labels: dLabels, fs: 14, lh: 16, dx: 7, dy: 9 },
    titles: [{ x: 482.7, y: 382, s: titleNorm[0], size: 15, rot: true }, { x: 498.3, y: 381, s: titleNorm[1], size: 15, rot: true }],
  },
};

const specE = {
  type: 'scatter',
  rect: { l: 91, t: 529, r: 310, b: 684 }, pad: { l: 76, t: 19, r: 10, b: 52 },
  xr: [-20, 60], xTicks: efXTicks, yr: [50, 252], yTicks: efYTicks,
  datasets: [
    ptDs([...seq(eBaseStart, eChoBase), ...at(eChoEarlyT, eChoEarly), ...seq(eChoStart, eChoPost)],
      [...eChoBaseErr, ...eChoEarlyErr, ...eChoErr], INK, 'rect', 2.6),
    ptDs([...seq(eBaseStart, e7paBase), ...at(e7paEarlyT, e7paEarly), ...seq(e7paStart, e7paPost)],
      [...e7paBaseErr, ...e7paEarlyErr, ...e7paErr], RED, 'circle', 2.3),
  ],
  deco: {
    yt: { font: F12, sx: 1.45, off: 9 },
    xt: { font: F12, sx: 1.05, off: 17 },
    titles: [{ x: 25.8, y: 603.3, s: titleSlope, size: 15.5, rot: true }, { x: 199, y: 726.7, s: titleTime, size: 15 }],
    arrows: [{ x: 1, y0: 72.8, y1: 100 }],
    texts: [{ x: 1.3, y: 64.6, s: 'HFS', font: F13 }],
    legend: {
      mx: 242.3, tx: 254, ys: [656.7, 672.3], font: F13, names: eNames,
      items: [{ style: 'rect', color: INK, r: 3.7 }, { style: 'circle', color: RED, r: 4.3 }],
    },
  },
};

const specF = {
  type: 'scatter',
  rect: { l: 434, t: 529, r: 652, b: 683 }, pad: { l: 66, t: 19, r: 10, b: 53 },
  xr: [-20, 60], xTicks: efXTicks, yr: [50, 252], yTicks: efYTicks,
  datasets: [
    ptDs([...seq(fBaseStart, fVehBase), ...at(fVehEarlyT, fVehEarly), ...seq(fVehStart, fVehPost)],
      [...fVehBaseErr, ...fVehEarlyErr, ...fVehErr], INK, 'rect', 2.8),
    ptDs([...seq(fBaseStart, fTboaBase), ...at(fTboaEarlyT, fTboaEarly), ...seq(fTboaStart, fTboaPost)],
      [...fTboaBaseErr, ...fTboaEarlyErr, ...fTboaErr], RED, 'circle', 2.6),
  ],
  deco: {
    yt: { font: F12, sx: 1.45, off: 9 },
    xt: { font: F12, sx: 1.05, off: 17 },
    titles: [{ x: 377.8, y: 603, s: titleSlope, size: 15.5, rot: true }, { x: 541.8, y: 727.3, s: titleTime, size: 15 }],
    arrows: [{ x: 0.3, y0: 71.8, y1: 98.5 }],
    texts: [{ x: 1.8, y: 58.7, s: 'HFS', font: F13 }],
    legend: {
      mx: 599.7, tx: 611, ys: [656, 672.3], font: F13, names: fNames,
      items: [{ style: 'rect', color: INK, r: 3.7 }, { style: 'circle', color: RED, r: 4.3 }],
    },
  },
};

const specG = {
  type: 'scatter',
  rect: { l: 91, t: 774, r: 329, b: 916 }, pad: { l: 76, t: 12, r: 14, b: 64 },
  xr: [0, 500], xTicks: gXTicks, yr: [19, 104], yTicks: gYTicks,
  datasets: [
    ptDs(at(gConc, gUptake), gErr, INK, 'circle', 3, 3.3),
    { data: at(gFitX, gFitY), showLine: true, borderColor: '#111', borderWidth: 1.3, pointRadius: 0, cubicInterpolationMode: 'monotone' },
  ],
  deco: {
    yt: { font: F12, sx: 1.3, off: 9 },
    xt: { font: F12, sx: 1.05, off: 23 },
    titles: [{ x: 25, y: 840.8, s: titleUptake, size: 15, rot: true }, { x: 195.5, y: 970, s: titleConc, size: 15 }],
  },
};

const specH = {
  type: 'bar',
  rect: { l: 446, t: 777, r: 625, b: 937 }, pad: { l: 73, t: 6, r: 8, b: 62 },
  labels: hLabels.map((l) => l.join(' ')), yr: [16.5, 110], yTicks: hYTicks,
  datasets: [{
    data: hValues, err: hErr, errUp: true, errColor: '#111', errCap: 8.5, errWidth: 1.5,
    backgroundColor: '#0a0a0a', borderWidth: 0, barPercentage: 0.608, categoryPercentage: 1, clip: 0,
  }],
  deco: {
    yt: { font: F12, sx: 1.25, off: 9 },
    xt: { rot: -Math.PI / 4, labels: hLabels, fs: 14, lh: 17, dx: 6, dy: 10 },
    titles: [{ x: 382, y: 855.8, s: titleUptake, size: 15, rot: true }],
    sig: { s: hSig, font: `bold 19px ${FF}`, dy: 1 },
  },
};

export default function App() {
  return (
    <div style={{ position: 'absolute', left: 0, top: 0, width: 684, height: 1001, background: '#fff', overflow: 'hidden' }}>
      <MainChart spec={specA} />
      <MainChart spec={specB} />
      <MainChart spec={specC} />
      <MainChart spec={specD} />
      <MainChart spec={specE} />
      <MainChart spec={specF} />
      <MainChart spec={specG} />
      <MainChart spec={specH} />

      {/* inset traces A */}
      <TraceBox l={139} r={190} base={32} xmin={0} lines={[
        { color: INK, art: trA1Art, post: trA1Black }, { color: GRAY, art: trA1Art, post: trA1Gray }]} />
      <TraceBox l={197} r={248} base={33} xmin={2.6} lines={[
        { color: RED, art: trA2Art, post: trA2Red }, { color: PINK, art: trA2Art, post: trA2Pink }]} />
      <TraceBox l={254} r={306} base={32.3} xmin={5.6} lines={[
        { color: '#1010ff', art: trA3Art, post: trA3Blue }, { color: LIGHTBLUE, art: trA3Art, post: trA3Light }]} />
      <ScaleBar l={291} t={50} w={17} h={13} />

      {/* inset traces B */}
      <TraceBox l={459} r={508} base={32.3} xmin={2} lines={[
        { color: INK, art: trB1Art, post: trB1Black }, { color: GRAY, art: trB1Art, post: trB1Gray }]} />
      <TraceBox l={520} r={570} base={32.7} xmin={-0.8} lines={[
        { color: RED, art: trB2Art, post: trB2Red }, { color: PINK, art: trB2Art, post: trB2Pink }]} />
      <TraceBox l={584} r={633} base={33.3} xmin={-1.1} lines={[
        { color: BLUE_B, art: trB3Art, post: trB3Blue }]} />
      <ScaleBar l={618} t={50} w={17} h={12} />

      {/* inset traces C */}
      <TraceBox l={143} r={208} base={299.3} xmin={2.7} lw={2} lines={[{ color: '#000', art: trC1Art, post: trC1 }]} />
      <TraceBox l={227} r={291} base={300} xmin={4.6} lw={2} lines={[{ color: '#000', art: trC2Art, post: trC2 }]} />
      <TraceBox l={306} r={369} base={298.3} xmin={4.4} lw={2} lines={[{ color: '#000', art: trC3Art, post: trC3 }]} />
      <TraceBox l={379} r={443} base={297.3} xmin={3.5} lw={2} lines={[{ color: '#000', art: trC4Art, post: trC4 }]} />
      <ScaleBar l={425} t={339} w={21} h={15} />

      {/* inset traces E */}
      <TraceBox l={158} r={223} base={541.7} xmin={1.5} lw={2.8} lines={[
        { color: '#000', art: trE1Art, post: trE1Black }, { color: GRAY, art: trE1Art, post: trE1Gray }]} />
      <TraceBox l={238} r={302} base={544} xmin={3.5} lw={2.8} lines={[
        { color: RED, art: trE2Art, post: trE2Red }, { color: PINK, art: trE2Art, post: trE2Pink }]} />
      <ScaleBar l={283} t={569} w={22} h={18} />

      {/* inset traces F */}
      <TraceBox l={514} r={568} base={523.3} xmin={3.5} lw={2.8} lines={[
        { color: '#000', art: trF1Art, post: trF1Black }, { color: GRAY, art: trF1Art, post: trF1Gray }]} />
      <TraceBox l={593} r={646} base={521.7} xmin={1.9} lw={2.8} lines={[
        { color: RED, art: trF2RedArt, post: trF2Red }, { color: PINK, art: trF2PinkArt, post: trF2Pink }]} />
      <ScaleBar l={630} t={560} w={18} h={19} />

      {/* panel letters */}
      <Letter x={90} y={28} s="A" size={19} />
      <Letter x={415} y={28} s="B" size={18.5} bold />
      <Letter x={92} y={272} s="C" size={18.5} />
      <Letter x={553} y={279} s="D" size={17} bold />
      <Letter x={92} y={505} s="E" size={16.5} bold />
      <Letter x={440} y={505} s="F" size={17} bold />
      <Letter x={90} y={757} s="G" size={17.5} bold />
      <Letter x={448} y={758} s="H" size={16.5} />
    </div>
  );
}
